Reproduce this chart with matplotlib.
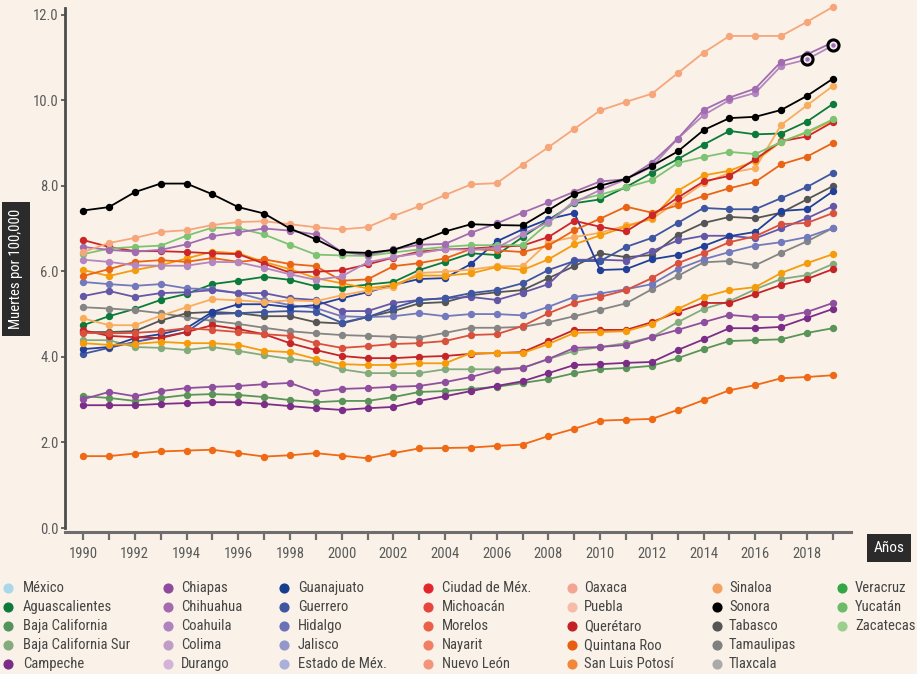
import matplotlib
matplotlib.use("Agg")
import matplotlib.pyplot as plt
from matplotlib import font_manager as fm
from matplotlib.lines import Line2D

# ---------------- data ----------------
years = list(range(1990, 2020))

aguascalientes = [4.74,4.95,5.12,5.33,5.47,5.70,5.78,5.87,5.80,5.65,5.62,5.69,5.75,6.03,6.22,6.42,6.38,6.80,7.20,7.59,7.68,7.97,8.30,8.62,8.96,9.28,9.20,9.22,9.50,9.91]
baja_california = [3.08,3.04,2.97,3.04,3.11,3.13,3.11,3.06,2.99,2.94,2.97,2.97,3.06,3.18,3.20,3.25,3.30,3.39,3.48,3.62,3.71,3.74,3.79,3.97,4.18,4.37,4.39,4.41,4.56,4.67]
baja_california_sur = [4.39,4.39,4.23,4.21,4.16,4.23,4.14,4.04,3.95,3.88,3.71,3.62,3.62,3.62,3.71,3.71,3.71,3.74,3.95,4.14,4.23,4.32,4.46,4.81,5.12,5.30,5.58,5.82,5.91,6.17]
campeche = [2.87,2.87,2.87,2.90,2.92,2.94,2.94,2.90,2.85,2.80,2.76,2.80,2.83,2.97,3.08,3.20,3.32,3.43,3.62,3.81,3.83,3.86,3.88,4.16,4.41,4.67,4.67,4.70,4.91,5.12]
chiapas = [3.01,3.18,3.08,3.20,3.27,3.30,3.32,3.36,3.39,3.18,3.25,3.27,3.30,3.32,3.41,3.53,3.69,3.74,3.95,4.21,4.23,4.28,4.46,4.63,4.81,4.98,4.93,4.93,5.05,5.26]
chihuahua = [6.57,6.50,6.46,6.50,6.63,6.82,6.91,7.00,6.95,6.86,6.45,6.38,6.51,6.62,6.64,6.90,7.12,7.37,7.61,7.86,8.10,8.15,8.54,9.10,9.77,10.06,10.27,10.90,11.07,11.35]
coahuila = [6.27,6.22,6.14,6.13,6.13,6.22,6.21,6.08,5.93,5.80,5.88,6.21,6.33,6.42,6.52,6.50,6.55,6.87,7.15,7.61,7.90,8.15,8.44,9.10,9.65,10.00,10.17,10.80,10.95,11.28]
guanajuato = [4.18,4.23,4.44,4.53,4.67,5.05,5.23,5.23,5.16,5.21,5.37,5.51,5.68,5.82,5.84,6.17,6.70,6.98,7.22,7.36,6.03,6.05,6.28,6.38,6.59,6.82,6.92,7.41,7.45,7.87]
guerrero = [4.07,4.21,4.35,4.46,4.58,5.00,5.02,5.05,5.07,5.05,4.80,4.93,5.14,5.33,5.37,5.49,5.56,5.72,6.03,6.24,6.24,6.57,6.78,7.13,7.48,7.45,7.45,7.71,7.97,8.30]
hidalgo = [5.42,5.54,5.40,5.49,5.51,5.56,5.49,5.49,5.37,5.33,5.07,5.07,5.26,5.33,5.37,5.40,5.33,5.50,5.70,6.27,6.27,6.25,6.47,6.72,6.83,6.83,6.77,7.00,7.24,7.52]
jalisco = [5.75,5.70,5.66,5.70,5.60,5.58,5.49,5.33,5.21,5.14,4.95,4.93,4.95,5.02,4.95,5.00,5.00,4.97,5.17,5.40,5.48,5.58,5.70,6.05,6.28,6.45,6.60,6.68,6.80,7.01]
ciudad_de_mexico = [6.73,6.57,6.47,6.47,6.45,6.42,6.40,6.18,5.97,5.99,6.02,6.16,6.32,6.46,6.51,6.53,6.57,6.60,6.80,7.18,7.04,6.93,7.31,7.72,8.10,8.23,8.62,9.04,9.15,9.49]
morelos = [4.56,4.55,4.56,4.60,4.67,4.63,4.58,4.53,4.49,4.32,4.21,4.25,4.30,4.32,4.37,4.51,4.53,4.72,5.02,5.26,5.40,5.56,5.84,6.19,6.42,6.68,6.82,7.10,7.13,7.36]
nayarit = [4.32,4.28,4.30,4.35,4.32,4.32,4.28,4.14,4.11,3.95,3.83,3.81,3.81,3.85,3.85,4.09,4.09,4.09,4.30,4.56,4.58,4.60,4.77,5.12,5.40,5.56,5.63,5.96,6.19,6.40]
nuevo_leon = [6.03,5.89,6.03,6.14,6.30,6.46,6.42,6.22,6.05,5.84,5.72,5.60,5.68,5.90,5.90,5.95,6.10,6.03,6.28,6.63,6.84,7.04,7.24,7.88,8.24,8.35,8.58,9.03,9.24,9.53]
oaxaca = [6.45,6.66,6.78,6.92,6.96,7.08,7.15,7.17,7.10,7.03,6.98,7.03,7.29,7.52,7.78,8.03,8.06,8.49,8.90,9.33,9.76,9.96,10.15,10.63,11.11,11.50,11.50,11.50,11.83,12.18]
queretaro = [4.62,4.49,4.46,4.44,4.58,4.74,4.65,4.53,4.32,4.16,4.02,3.97,3.97,4.00,4.02,4.07,4.09,4.11,4.37,4.63,4.63,4.63,4.81,5.05,5.26,5.26,5.47,5.68,5.82,6.05]
quintana_roo = [5.89,6.05,6.22,6.26,6.22,6.31,6.22,6.28,6.17,6.12,5.78,5.81,6.12,6.19,6.30,6.52,6.49,6.45,6.60,6.96,7.23,7.51,7.37,7.54,7.76,7.94,8.09,8.50,8.68,9.00]
san_luis_potosi = [1.68,1.68,1.74,1.79,1.81,1.83,1.75,1.67,1.70,1.75,1.69,1.63,1.75,1.86,1.87,1.88,1.92,1.95,2.15,2.32,2.51,2.53,2.55,2.76,2.99,3.22,3.34,3.50,3.53,3.57]
sinaloa = [4.90,4.74,4.74,4.96,5.16,5.35,5.32,5.28,5.32,5.30,5.44,5.55,5.63,5.96,5.99,6.04,6.12,6.12,6.68,6.80,6.90,7.07,7.22,7.64,8.06,8.30,8.41,9.42,9.88,10.33]
sonora = [7.42,7.50,7.85,8.05,8.05,7.80,7.50,7.35,7.00,6.75,6.45,6.43,6.50,6.70,6.93,7.10,7.08,7.07,7.43,7.80,8.00,8.16,8.46,8.80,9.30,9.58,9.61,9.77,10.10,10.50]
tabasco = [4.58,4.58,4.60,4.85,5.02,5.05,5.02,4.95,4.95,4.81,4.78,4.93,5.07,5.25,5.28,5.44,5.51,5.56,5.84,6.12,6.42,6.33,6.38,6.85,7.13,7.27,7.24,7.37,7.68,7.99]
tamaulipas = [5.16,5.13,5.09,5.02,4.93,4.84,4.77,4.68,4.60,4.55,4.51,4.49,4.47,4.45,4.56,4.68,4.68,4.70,4.81,4.95,5.10,5.25,5.58,5.89,6.21,6.24,6.14,6.43,6.70,7.01]
yucatan = [6.40,6.53,6.57,6.60,6.83,7.02,7.01,6.86,6.62,6.39,6.37,6.36,6.44,6.51,6.57,6.61,6.61,6.61,7.13,7.65,7.79,7.96,8.13,8.53,8.67,8.79,8.74,9.02,9.26,9.55]

highlight_years = [2018, 2019]   # highlighted points on Coahuila

# legend entries (column-major order), their legend colours, and series
states = ["México", "Aguascalientes", "Baja California", "Baja California Sur", "Campeche",
          "Chiapas", "Chihuahua", "Coahuila", "Colima", "Durango",
          "Guanajuato", "Guerrero", "Hidalgo", "Jalisco", "Estado de Méx.",
          "Ciudad de Méx.", "Michoacán", "Morelos", "Nayarit", "Nuevo León",
          "Oaxaca", "Puebla", "Querétaro", "Quintana Roo", "San Luis Potosí",
          "Sinaloa", "Sonora", "Tabasco", "Tamaulipas", "Tlaxcala",
          "Veracruz", "Yucatán", "Zacatecas"]
legend_colors = ["#a8d8ea", "#0b7a3a", "#55935a", "#86aa7e", "#7b2d88",
                 "#8e4a9c", "#a56aad", "#b183be", "#c29cc9", "#d3b3da",
                 "#153f8e", "#3f56a0", "#6a72b8", "#9298cb", "#aab0da",
                 "#e3262b", "#e7443c", "#ec5f46", "#f07e62", "#f4957a",
                 "#f4a591", "#f7bca9", "#c41f24", "#e85d0f", "#f28639",
                 "#f5a15f", "#000000", "#555555", "#808080", "#aaaaaa",
                 "#33a646", "#6dbb67", "#9ccf8f"]
series = {
    "Aguascalientes": (aguascalientes, "#0b7a3a"),
    "Baja California": (baja_california, "#5a9459"),
    "Baja California Sur": (baja_california_sur, "#84ab7c"),
    "Campeche": (campeche, "#7b2d88"),
    "Chiapas": (chiapas, "#8e4f9e"),
    "Tamaulipas": (tamaulipas, "#858585"),
    "Tabasco": (tabasco, "#555555"),
    "Jalisco": (jalisco, "#7279bd"),
    "Hidalgo": (hidalgo, "#6358a8"),
    "Guerrero": (guerrero, "#3f56a0"),
    "Guanajuato": (guanajuato, "#22409a"),
    "Querétaro": (queretaro, "#c62426"),
    "Morelos": (morelos, "#d9503e"),
    "Nayarit": (nayarit, "#f59c0c"),
    "San Luis Potosí": (san_luis_potosi, "#f06914"),
    "Sinaloa": (sinaloa, "#f9ad5c"),
    "Nuevo León": (nuevo_leon, "#f59c0c"),
    "Quintana Roo": (quintana_roo, "#ea6415"),
    "Ciudad de Méx.": (ciudad_de_mexico, "#cc2628"),
    "Yucatán": (yucatan, "#7dc374"),
    "Coahuila": (coahuila, "#b386c0"),
    "Chihuahua": (chihuahua, "#a16cb0"),
    "Oaxaca": (oaxaca, "#f6a67a"),
    "Sonora": (sonora, "#000000"),
}

# ---------------- fonts ----------------
avail = {f.name for f in fm.fontManager.ttflist}
font_family = None
font_stretch = "normal"
for cand in ["Roboto Condensed", "Liberation Sans Narrow", "Open Sans Condensed", "DejaVu Sans Condensed"]:
    if cand in avail:
        font_family = cand
        break
if font_family is None:
    if any(f.name == "DejaVu Sans" and f.stretch in ("condensed", 400, "semi-condensed") for f in fm.fontManager.ttflist):
        font_family = "DejaVu Sans"
        font_stretch = "condensed"
    else:
        font_family = "DejaVu Sans"
fs = 10.5 if font_family != "DejaVu Sans" or font_stretch == "condensed" else 9
plt.rcParams["font.family"] = [font_family, "DejaVu Sans"]
plt.rcParams["font.stretch"] = font_stretch

BG = "#faf2e8"
W, H = 917, 674
fig = plt.figure(figsize=(W / 100, H / 100), dpi=100, facecolor=BG)

# axes in pixel geometry
ax_left, ax_right, ax_top, ax_bottom = 65, 851, 0, 532
ax = fig.add_axes([ax_left / W, 1 - ax_bottom / H, (ax_right - ax_left) / W, (ax_bottom - ax_top) / H])
ax.set_facecolor(BG)

for name, (vals, col) in series.items():
    ax.plot(years, vals, color=col, lw=1.3, marker="o", ms=4.3, mec=col, mfc=col, zorder=3)

# highlighted points on Coahuila
hx = [y for y in highlight_years]
hy = [coahuila[years.index(y)] for y in highlight_years]
ax.plot(hx, hy, ls="none", marker="o", ms=8, mfc="#f3e9f4", mec="#000000", mew=2.2, zorder=5)
ax.plot(hx, hy, ls="none", marker="o", ms=3.2, mfc="#a16cb0", mec="none", zorder=6)

ax.set_xlim(1989.30, 2019.70)
ax.set_ylim(-0.093, 12.34)

for s in ["top", "right"]:
    ax.spines[s].set_visible(False)
ax.spines["left"].set_bounds(0, 12.15)
ax.spines["left"].set_linewidth(2.0)
ax.spines["left"].set_color("#4d4d4d")
ax.spines["bottom"].set_linewidth(2.2)
ax.spines["bottom"].set_color("#6e6e6e")

yt = [0, 2, 4, 6, 8, 10, 12]
ax.set_yticks(yt)
ax.set_yticklabels([f"{v:.1f}" for v in yt])
ax.tick_params(axis="y", length=3, width=1.2, color="#4d4d4d", pad=1.5,
               labelsize=fs, labelcolor="#5a5a5a")
ax.set_xticks(years)
ax.set_xticklabels([str(y) if y % 2 == 0 else "" for y in years])
ax.tick_params(axis="x", length=5.5, width=1.6, color="#6e6e6e", pad=5,
               labelsize=fs, labelcolor="#5a5a5a")

# axis titles in dark boxes
fig.text(16 / W, 1 - 269 / H, "Muertes por 100,000", rotation=90, color="white",
         fontsize=fs, ha="center", va="center",
         bbox=dict(boxstyle="square,pad=0.45", fc="#2b2b2b", ec="none"))
fig.text(889 / W, 1 - 548 / H, "Años", color="white", fontsize=fs + 0.5,
         ha="center", va="center",
         bbox=dict(boxstyle="square,pad=0.45", fc="#2b2b2b", ec="none"))

# legend (manual grid)
col_marker_x = [8, 168, 284, 428, 572, 717, 842]
col_text_x = [23, 181, 298, 442, 584, 729, 855]
row_y = [588, 607, 626, 645, 664]
for i, (name, col) in enumerate(zip(states, legend_colors)):
    c, r = divmod(i, 5)
    mx, tx, yy = col_marker_x[c], col_text_x[c], row_y[r]
    fig.add_artist(Line2D([mx / W], [1 - yy / H], transform=fig.transFigure,
                          marker="o", ms=6.3, mfc=col, mec=col, ls="none"))
    fig.text(tx / W, 1 - yy / H, name, color="#454545", fontsize=fs,
             ha="left", va="center")

fig.savefig("out.png", dpi=100, facecolor=BG)
